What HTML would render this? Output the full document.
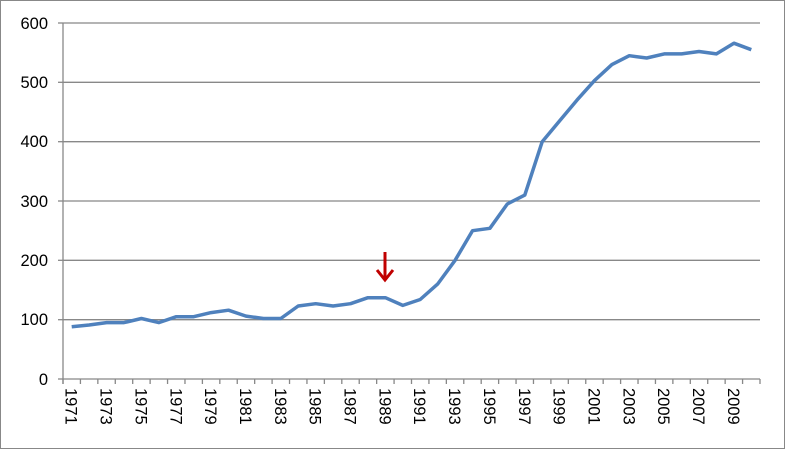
<!DOCTYPE html>
<html><head><style>body{margin:0;background:#fff}svg{display:block}text{font-family:"Liberation Sans",sans-serif;font-size:16.5px;fill:#000}</style></head>
<body>
<svg width="785" height="449" viewBox="0 0 785 449">
<rect x="0.5" y="0.5" width="784" height="448" fill="#fff" stroke="#888"/>
<g stroke="#888" stroke-width="1.3">
<line x1="63" y1="23" x2="760" y2="23"/>
<line x1="63" y1="82.3" x2="760" y2="82.3"/>
<line x1="63" y1="141.7" x2="760" y2="141.7"/>
<line x1="63" y1="201" x2="760" y2="201"/>
<line x1="63" y1="260.3" x2="760" y2="260.3"/>
<line x1="63" y1="319.7" x2="760" y2="319.7"/>
<line x1="63" y1="379" x2="760" y2="379"/>
<line x1="63" y1="23" x2="63" y2="384"/>
<line x1="58" y1="23" x2="63" y2="23"/><line x1="58" y1="82.3" x2="63" y2="82.3"/><line x1="58" y1="141.7" x2="63" y2="141.7"/><line x1="58" y1="201" x2="63" y2="201"/><line x1="58" y1="260.3" x2="63" y2="260.3"/><line x1="58" y1="319.7" x2="63" y2="319.7"/><line x1="58" y1="379" x2="63" y2="379"/>
<line x1="62.35" y1="381.5" x2="762" y2="381.5" stroke-width="5" stroke-dasharray="1.3 16.125"/>
</g>
<g text-anchor="end">
<text x="48" y="29">600</text><text x="48" y="88">500</text><text x="48" y="147">400</text><text x="48" y="207">300</text><text x="48" y="266">200</text><text x="48" y="325">100</text><text x="48" y="385">0</text>
</g>
<g>
<text transform="translate(65.7,388) rotate(90)">1971</text>
<text transform="translate(100.6,388) rotate(90)">1973</text>
<text transform="translate(135.4,388) rotate(90)">1975</text>
<text transform="translate(170.3,388) rotate(90)">1977</text>
<text transform="translate(205.1,388) rotate(90)">1979</text>
<text transform="translate(240.0,388) rotate(90)">1981</text>
<text transform="translate(274.8,388) rotate(90)">1983</text>
<text transform="translate(309.7,388) rotate(90)">1985</text>
<text transform="translate(344.5,388) rotate(90)">1987</text>
<text transform="translate(379.4,388) rotate(90)">1989</text>
<text transform="translate(414.2,388) rotate(90)">1991</text>
<text transform="translate(449.1,388) rotate(90)">1993</text>
<text transform="translate(483.9,388) rotate(90)">1995</text>
<text transform="translate(518.8,388) rotate(90)">1997</text>
<text transform="translate(553.6,388) rotate(90)">1999</text>
<text transform="translate(588.5,388) rotate(90)">2001</text>
<text transform="translate(623.3,388) rotate(90)">2003</text>
<text transform="translate(658.2,388) rotate(90)">2005</text>
<text transform="translate(693.0,388) rotate(90)">2007</text>
<text transform="translate(727.9,388) rotate(90)">2009</text>
</g>
<polyline id="ln" fill="none" stroke="#4f81bd" stroke-width="3.5" stroke-linejoin="round"/>
<line x1="385" y1="252" x2="385" y2="278" stroke="#c00000" stroke-width="3"/>
<polyline points="377,270 385,280 393,270" fill="none" stroke="#c00000" stroke-width="3"/>
<script>
var v=[88,91,95,95,102,95,105,105,112,116,106,102,102,123,127,123,127,137,137,124,134,160,200,250,254,295,310,400,435,470,503,530,545,541,548,548,552,548,566,555];
var w=17.425,x0=63,p=[];
for(var i=0;i<40;i++){var x=x0+(i+0.5)*w;p.push(x.toFixed(1)+','+(379-v[i]*0.5933).toFixed(1));}
document.getElementById('ln').setAttribute('points',p.join(' '));
</script>
</svg>
</body></html>
